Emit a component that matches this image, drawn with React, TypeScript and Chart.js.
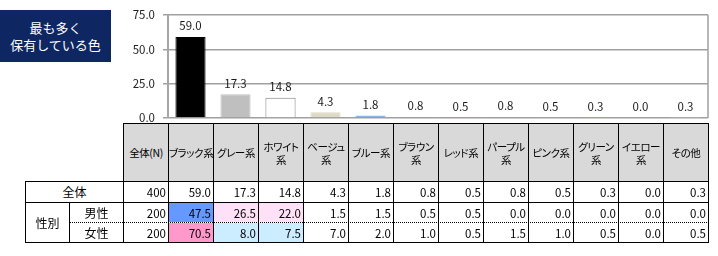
import React, { useEffect, useRef } from "react";
import { Chart, registerables } from "chart.js";
Chart.register(...registerables);

const FONT = '"Noto Sans CJK JP", "Noto Sans", sans-serif';

const titleLines = ["最も多く", "保有している色"];
const categories = ["ブラック系", "グレー系", "ホワイト系", "ベージュ系", "ブルー系", "ブラウン系", "レッド系", "パープル系", "ピンク系", "グリーン系", "イエロー系", "その他"];
const headerLabels = ["ブラック系", "グレー系", "ホワイト\n系", "ベージュ\n系", "ブルー系", "ブラウン\n系", "レッド系", "パープル\n系", "ピンク系", "グリーン\n系", "イエロー\n系", "その他"];
const nHeader = "全体(N)";
const totalLabel = "全体";
const groupLabel = "性別";
const maleLabel = "男性";
const femaleLabel = "女性";
const totalN = 400;
const maleN = 200;
const femaleN = 200;
const totalValues = [59.0, 17.3, 14.8, 4.3, 1.8, 0.8, 0.5, 0.8, 0.5, 0.3, 0.0, 0.3];
const maleValues = [47.5, 26.5, 22.0, 1.5, 1.5, 0.5, 0.5, 0.0, 0.0, 0.0, 0.0, 0.0];
const femaleValues = [70.5, 8.0, 7.5, 7.0, 2.0, 1.0, 0.5, 1.5, 1.0, 0.5, 0.0, 0.5];
const yTicks = [0, 25, 50, 75];

const barColors = ["#000000", "#BFBFBF", "#FFFFFF", "#DDD9C4", "#558ED5", "#A47A5A", "#D9665F", "#8064A2", "#E59EE0", "#9BBB59", "#FFFF66", "#C8C8C8"];
const barBorders = ["#000000", "#BFBFBF", "#7F7F7F", "#DDD9C4", "#8DB4E2", "#A47A5A", "#D9665F", "#8064A2", "#E59EE0", "#9BBB59", "#FFFF66", "#C8C8C8"];
const maleCellBg = ["#6699FF", "#FFE1F7", "#FFE1F7", "", "", "", "", "", "", "", "", ""];
const femaleCellBg = ["#FF99CC", "#CCECFF", "#CCECFF", "", "", "", "", "", "", "", "", ""];

const GRID = "#A0A0A0";

const valueLabels = {
  id: "valueLabels",
  afterDatasetsDraw(chart: any) {
    const ctx = chart.ctx;
    const meta = chart.getDatasetMeta(0);
    const data = chart.data.datasets[0].data;
    ctx.save();
    ctx.font = `11.5px ${FONT}`;
    ctx.fillStyle = "#1A1A1A";
    ctx.textAlign = "center";
    ctx.textBaseline = "middle";
    meta.data.forEach((bar: any, i: number) => {
      ctx.fillText(Number(data[i]).toFixed(1), bar.x, bar.y - 11);
    });
    ctx.restore();
  },
};

const frame = {
  id: "frame",
  beforeDatasetsDraw(chart: any) {
    const { ctx, chartArea } = chart;
    ctx.save();
    ctx.strokeStyle = GRID;
    ctx.lineWidth = 1.5;
    ctx.beginPath();
    ctx.moveTo(chartArea.right, chartArea.top);
    ctx.lineTo(chartArea.right, chartArea.bottom);
    ctx.stroke();
    ctx.restore();
  },
};

const COL0 = 123;
const COLW = 45;
const HEAD_TOP = 123;
const ROW_Y = [181, 202, 222, 242];

function HLine({ x1, x2, y, dotted }: { x1: number; x2: number; y: number; dotted?: boolean }) {
  return (
    <div style={{ position: "absolute", left: x1, top: y, width: x2 - x1 + 1, height: 0, borderTop: `1px ${dotted ? "dotted" : "solid"} #000` }} />
  );
}
function VLine({ x, y1, y2 }: { x: number; y1: number; y2: number }) {
  return <div style={{ position: "absolute", left: x, top: y1, width: 1, height: y2 - y1 + 1, background: "#000" }} />;
}

function Cell({ x1, x2, y1, y2, text, align, bg, size, head }: any) {
  return (
    <div
      style={{
        position: "absolute",
        left: x1 + 1,
        top: y1 + 1,
        width: x2 - x1 - 1,
        height: y2 - y1 - 1,
        background: bg || "transparent",
        display: "flex",
        alignItems: "center",
        justifyContent: align === "right" ? "flex-end" : "center",
        textAlign: "center",
        paddingRight: align === "right" ? 2 : 0,
        boxSizing: "border-box",
        fontFamily: FONT,
        fontSize: size || 11.5,
        lineHeight: head ? "13px" : "14px",
        color: "#000",
        whiteSpace: "pre",
        fontFeatureSettings: head ? '"palt"' : "normal",
        letterSpacing: head ? "-0.4px" : "0",
      }}
    >
      {text}
    </div>
  );
}

export default function App() {
  const ref = useRef<HTMLCanvasElement>(null);
  useEffect(() => {
    if (!ref.current) return;
    const chart = new Chart(ref.current, {
      type: "bar",
      data: {
        labels: categories,
        datasets: [
          {
            data: totalValues,
            backgroundColor: barColors,
            borderColor: barBorders,
            borderWidth: 1,
            categoryPercentage: 1,
            barPercentage: 0.67,
          },
        ],
      },
      options: {
        responsive: false,
        animation: false,
        layout: { padding: { top: 6, right: 10, bottom: 0, left: 0 } },
        plugins: { legend: { display: false }, tooltip: { enabled: false }, title: { display: false } },
        scales: {
          x: { display: false },
          y: {
            min: 0,
            max: 75,
            afterBuildTicks: (scale: any) => {
              scale.ticks = yTicks.map((v) => ({ value: v }));
            },
            afterFit: (scale: any) => {
              scale.width = 68;
            },
            ticks: {
              callback: (v: any) => Number(v).toFixed(1),
              font: { family: FONT, size: 11.5 },
              color: "#222222",
              padding: 8,
            },
            grid: { color: GRID, tickLength: 5, lineWidth: 1.5 },
            border: { color: "#A6A6A6", width: 2 },
          },
        },
      },
      plugins: [frame, valueLabels],
    });
    return () => chart.destroy();
  }, []);

  const colX = (i: number) => COL0 + COLW * i;
  const right = colX(13);
  const lines: any[] = [];
  lines.push(<HLine key="h0" x1={COL0} x2={right} y={HEAD_TOP} />);
  lines.push(<HLine key="h1" x1={25} x2={right} y={ROW_Y[0]} />);
  lines.push(<HLine key="h2" x1={25} x2={right} y={ROW_Y[1]} />);
  lines.push(<HLine key="h3" x1={69} x2={right} y={ROW_Y[2]} dotted />);
  lines.push(<HLine key="h4" x1={25} x2={right} y={ROW_Y[3]} />);
  lines.push(<VLine key="v0" x={25} y1={ROW_Y[0]} y2={ROW_Y[3]} />);
  lines.push(<VLine key="v1" x={69} y1={ROW_Y[1]} y2={ROW_Y[3]} />);
  for (let i = 0; i <= 13; i++) lines.push(<VLine key={"vc" + i} x={colX(i)} y1={HEAD_TOP} y2={ROW_Y[3]} />);

  const cells: any[] = [];
  cells.push(<Cell key="hn" x1={colX(0)} x2={colX(1)} y1={HEAD_TOP} y2={ROW_Y[0]} text={nHeader} bg="#D9D9D9" size={10.5} head />);
  headerLabels.forEach((t, i) =>
    cells.push(<Cell key={"hc" + i} x1={colX(i + 1)} x2={colX(i + 2)} y1={HEAD_TOP} y2={ROW_Y[0]} text={t} bg="#D9D9D9" size={10.5} head />)
  );
  cells.push(<Cell key="lt" x1={25} x2={123} y1={ROW_Y[0]} y2={ROW_Y[1]} text={totalLabel} size={12} />);
  cells.push(<Cell key="lg" x1={25} x2={69} y1={ROW_Y[1]} y2={ROW_Y[3]} text={groupLabel} size={12} />);
  cells.push(<Cell key="lm" x1={69} x2={123} y1={ROW_Y[1]} y2={ROW_Y[2]} text={maleLabel} size={12} />);
  cells.push(<Cell key="lf" x1={69} x2={123} y1={ROW_Y[2]} y2={ROW_Y[3]} text={femaleLabel} size={12} />);
  const rows = [
    { n: totalN, vals: totalValues, bgs: [] as string[] },
    { n: maleN, vals: maleValues, bgs: maleCellBg },
    { n: femaleN, vals: femaleValues, bgs: femaleCellBg },
  ];
  rows.forEach((r, ri) => {
    cells.push(<Cell key={"n" + ri} x1={colX(0)} x2={colX(1)} y1={ROW_Y[ri]} y2={ROW_Y[ri + 1]} text={String(r.n)} align="right" />);
    r.vals.forEach((v, ci) =>
      cells.push(
        <Cell key={"c" + ri + "_" + ci} x1={colX(ci + 1)} x2={colX(ci + 2)} y1={ROW_Y[ri]} y2={ROW_Y[ri + 1]} text={v.toFixed(1)} align="right" bg={r.bgs[ci]} />
      )
    );
  });

  return (
    <div style={{ position: "absolute", left: 0, top: 0, width: 718, height: 256, background: "#fff", overflow: "hidden" }}>
      <div
        style={{
          position: "absolute",
          left: 0,
          top: 10,
          width: 111,
          height: 52,
          background: "#0E2762",
          color: "#fff",
          fontFamily: FONT,
          fontSize: 13,
          lineHeight: "17px",
          display: "flex",
          flexDirection: "column",
          alignItems: "center",
          justifyContent: "center",
        }}
      >
        {titleLines.map((t) => (
          <div key={t}>{t}</div>
        ))}
      </div>
      <canvas ref={ref} width={618} height={133} style={{ position: "absolute", left: 100, top: 0, width: 618, height: 133 }} />
      {cells}
      {lines}
    </div>
  );
}
